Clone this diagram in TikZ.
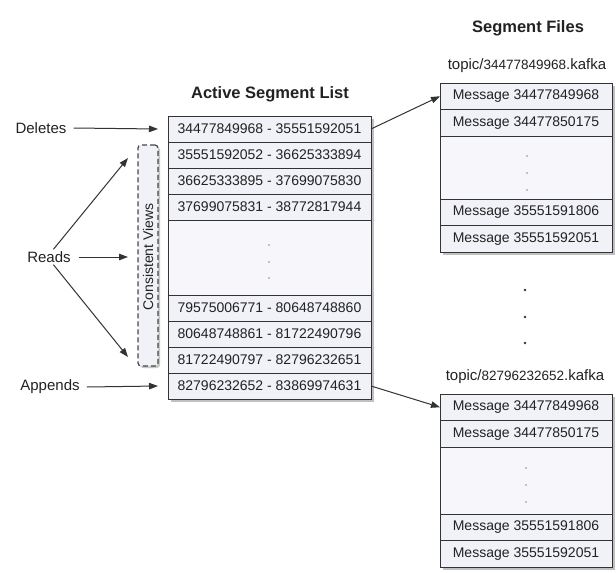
\documentclass[tikz,border=0pt]{standalone}
\usepackage{fontspec}
\setmainfont{Liberation Sans}
\usetikzlibrary{arrows.meta,shadows}
\definecolor{rowfill}{HTML}{F1F1F8}
\definecolor{gapfill}{HTML}{F6F6FB}
\definecolor{edge}{HTML}{333333}
\definecolor{ink}{HTML}{222222}
\begin{document}
\begin{tikzpicture}[x=1pt,y=-1pt,
  every node/.style={text=ink},
  cell/.style={draw=edge, line width=0.8pt, fill=rowfill, inner sep=0pt, outer sep=0pt,
    font=\fontsize{14}{16}\selectfont},
  lcell/.style={cell, minimum width=203pt, minimum height=26pt},
  fcell/.style={cell, minimum width=172pt, minimum height=26.5pt},
  gapcell/.style={cell, fill=gapfill},
  frame/.style={draw=edge, line width=1pt, fill=rowfill, inner sep=0pt, outer sep=0pt,
    drop shadow={shadow xshift=3pt, shadow yshift=-3pt, opacity=0.35, fill=black!70}},
  title/.style={font=\bfseries\fontsize{16.5}{19}\selectfont},
  lab/.style={font=\fontsize{15}{17}\selectfont, inner sep=2pt},
  arr/.style={draw=edge, line width=1pt, -{Triangle[length=9pt,width=6.5pt]}},
  sdot/.style={circle, fill=black!45, inner sep=0pt, minimum size=1.8pt},
  bdot/.style={circle, fill=black!80, inner sep=0pt, minimum size=2.6pt}
]
\useasboundingbox (0,0) rectangle (616,573);
\fill[white] (0,0) rectangle (616,573);

% titles
\node[title] (tlist) at (270,94) {Active Segment List};
\node[title] (tfiles) at (528,28) {Segment Files};

% active segment list
\node[frame, minimum width=203pt, minimum height=283pt] (list) at (269.5,257.5) {};
\node[lcell] (r1) at (269.5,129) {34477849968 - 35551592051};
\node[lcell] (r2) at (269.5,155) {35551592052 - 36625333894};
\node[lcell] (r3) at (269.5,181) {36625333895 - 37699075830};
\node[lcell] (r4) at (269.5,207) {37699075831 - 38772817944};
\node[gapcell, minimum width=203pt, minimum height=75pt] (rg) at (269.5,257.5) {};
\node[lcell] (r5) at (269.5,308) {79575006771 - 80648748860};
\node[lcell] (r6) at (269.5,334) {80648748861 - 81722490796};
\node[lcell] (r7) at (269.5,360) {81722490797 - 82796232651};
\node[lcell] (r8) at (269.5,386) {82796232652 - 83869974631};
\node[sdot] (lg1) at (269,245) {};
\node[sdot] (lg2) at (269,262) {};
\node[sdot] (lg3) at (269,278) {};

% consistent views
\node[draw=edge!90, line width=1.2pt, dash pattern=on 5pt off 3pt, rounded corners=3pt,
  fill=rowfill, minimum width=20pt, minimum height=221pt, inner sep=0pt,
  drop shadow={shadow xshift=2pt, shadow yshift=-2pt, opacity=0.3, fill=black!70}] (cv) at (148,255.5) {};
\node[rotate=90, font=\fontsize{14}{16}\selectfont] (cvt) at (148,257) {Consistent Views};

% left labels
\node[lab] (del) at (41,128) {Deletes};
\node[lab] (reads) at (49,257) {Reads};
\node[lab] (app) at (50,387) {Appends};
\coordinate (ru) at (128,158);
\coordinate (rm) at (128,257);
\coordinate (rd) at (128,357);
\draw[arr] ([xshift=5pt]del.east) -- ([xshift=-10pt]r1.west);
\draw[arr] (reads.60) -- (ru);
\draw[arr] ([xshift=6pt]reads.east) -- (rm);
\draw[arr] (reads.-60) -- (rd);
\draw[arr] ([xshift=5pt]app.east) -- ([xshift=-10pt]r8.west);

% segment file 1
\node[font=\fontsize{15}{17}\selectfont] (top1) at (527,66) {topic/{\fontsize{13.5}{16}\selectfont 34477849968}.kafka};
\node[frame, minimum width=172pt, minimum height=169pt] (f1) at (526,167.5) {};
\node[fcell] (m1) at (526,96.25) {Message 34477849968};
\node[fcell] (m2) at (526,122.75) {Message 34477850175};
\node[gapcell, minimum width=172pt, minimum height=63pt] (mg) at (526,167.5) {};
\node[fcell] (m3) at (526,212.25) {Message 35551591806};
\node[fcell] (m4) at (526,238.75) {Message 35551592051};
\node[sdot] (mg1) at (527,156) {};
\node[sdot] (mg2) at (527,173) {};
\node[sdot] (mg3) at (527,190) {};

% between files
\node[bdot] (b1) at (525,290) {};
\node[bdot] (b2) at (525,317) {};
\node[bdot] (b3) at (525,343) {};

% segment file 2
\node[font=\fontsize{15}{17}\selectfont] (top2) at (525,377) {topic/{\fontsize{13.5}{16}\selectfont 82796232652}.kafka};
\node[frame, minimum width=172pt, minimum height=173pt] (f2) at (526,480.5) {};
\node[fcell] (n1) at (526,407.25) {Message 34477849968};
\node[fcell] (n2) at (526,433.75) {Message 34477850175};
\node[gapcell, minimum width=172pt, minimum height=67pt] (ng) at (526,480.5) {};
\node[fcell] (n3) at (526,527.25) {Message 35551591806};
\node[fcell] (n4) at (526,553.75) {Message 35551592051};
\node[sdot] (ng1) at (526,468) {};
\node[sdot] (ng2) at (526,485) {};
\node[sdot] (ng3) at (526,502) {};

% connectors to files
\draw[arr] (r1.east) -- (m1.west);
\draw[arr] (r8.east) -- (n1.west);
\end{tikzpicture}
\end{document}
